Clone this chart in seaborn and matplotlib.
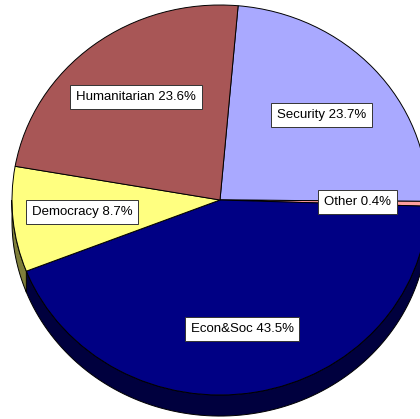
import numpy as np
import matplotlib
matplotlib.use("Agg")
import matplotlib.pyplot as plt
import seaborn as sns

sns.set_theme(style="white")
plt.rcParams['font.family'] = ['Liberation Sans', 'DejaVu Sans']

# ---- data ----
categories = ["Security", "Other", "Econ&Soc", "Democracy", "Humanitarian"]
shares = [23.7, 0.4, 43.5, 8.7, 23.6]
top_colors = ["#A9A9FF", "#FF9E9E", "#000084", "#FFFF80", "#A85656"]
side_colors = ["#5555A0", "#A05050", "#00003E", "#7F7F3A", "#5A2C2C"]
label_pos = [(0.490, 0.436), (0.663, -0.010), (0.106, -0.662),
             (-0.663, -0.062), (-0.404, 0.528)]

start_angle = 85.0
depth = 0.108

fig = plt.figure(figsize=(4.2, 4.19), dpi=100)
ax = fig.add_axes([0, 0, 1, 1])

# side walls (lower half only)
total = sum(shares)
a0 = start_angle
for val, sc in zip(shares, side_colors):
    a1 = a0 - val / total * 360.0
    # wedge covers [a1, a0]; visible side where angle in [-180, 0] (mod 360)
    for shift in (0.0, -360.0, 360.0):
        lo = max(a1 + shift, -180.0)
        hi = min(a0 + shift, 0.0)
        if hi > lo:
            t = np.radians(np.linspace(lo, hi, 100))
            xs = np.cos(t)
            ys = np.sin(t)
            px = np.concatenate([xs, xs[::-1]])
            py = np.concatenate([ys, ys[::-1] - depth])
            ax.fill(px, py, color=sc, ec="black", lw=0.7, zorder=1)
    a0 = a1

wedges, _ = ax.pie(shares, colors=top_colors, startangle=start_angle,
                   counterclock=False, radius=1.0, center=(0, 0),
                   wedgeprops=dict(edgecolor="black", linewidth=0.7))
for w in wedges:
    w.set_zorder(2)

for cat, val, (lx, ly) in zip(categories, shares, label_pos):
    ax.text(lx, ly, f"{cat} {val:.1f}%", ha="center", va="center",
            fontsize=9.5, color="black", zorder=5,
            bbox=dict(boxstyle="square,pad=0.45", fc="white", ec="#333333", lw=0.7))

ax.set_aspect("auto")
ax.set_xlim(-220 / 208, 200 / 208)
ax.set_ylim(-219 / 195, 200 / 195)
ax.axis("off")

fig.savefig("out.png", dpi=100, facecolor="white")
